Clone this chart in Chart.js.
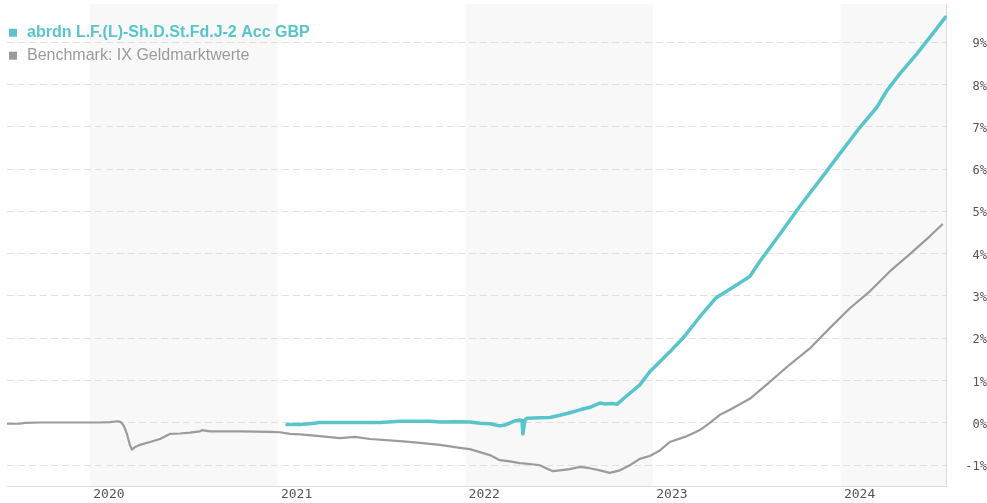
<!DOCTYPE html>
<html><head><meta charset="utf-8">
<style>html,body{margin:0;padding:0;background:#fff;overflow:hidden}canvas{display:block}</style>
<script src="https://cdn.jsdelivr.net/npm/chart.js@4.4.1/dist/chart.umd.min.js"></script>
</head><body><canvas id="c" width="987" height="503"></canvas>
<script>
const fundLabel = 'abrdn L.F.(L)-Sh.D.St.Fd.J-2 Acc GBP';
const benchLabel = 'Benchmark: IX Geldmarktwerte';

// time in decimal years, values in %
const fundX = [2021.050,2021.119,2021.199,2021.215,2021.385,2021.545,2021.652,2021.811,2021.865,2021.971,2022.024,2022.078,2022.131,2022.184,2022.211,2022.264,2022.291,2022.302,2022.307,2022.318,2022.328,2022.397,2022.451,2022.504,2022.557,2022.611,2022.664,2022.717,2022.744,2022.781,2022.808,2022.850,2022.930,2022.983,2023.090,2023.159,2023.250,2023.335,2023.410,2023.516,2023.570,2023.676,2023.783,2023.926,2023.980,2024.102,2024.193,2024.246,2024.315,2024.406,2024.491,2024.559];
const fundY = [-0.04,-0.035,-0.01,0.01,0.01,0.01,0.04,0.04,0.02,0.03,0.02,-0.01,-0.02,-0.07,-0.05,0.05,0.07,0.06,-0.26,0.07,0.11,0.12,0.13,0.18,0.24,0.31,0.37,0.47,0.45,0.46,0.44,0.60,0.90,1.21,1.68,2.00,2.51,2.95,3.16,3.46,3.82,4.46,5.12,5.95,6.27,6.98,7.46,7.85,8.25,8.72,9.20,9.59];

const benchX = [2019.558,2019.627,2019.654,2019.734,2019.840,2019.947,2020.053,2020.107,2020.149,2020.165,2020.181,2020.197,2020.213,2020.224,2020.240,2020.266,2020.320,2020.373,2020.426,2020.479,2020.533,2020.586,2020.597,2020.639,2020.799,2020.959,2021.012,2021.066,2021.119,2021.225,2021.332,2021.412,2021.492,2021.652,2021.758,2021.865,2021.971,2022.024,2022.078,2022.131,2022.184,2022.238,2022.291,2022.344,2022.397,2022.440,2022.467,2022.504,2022.557,2022.611,2022.664,2022.717,2022.770,2022.824,2022.877,2022.930,2022.983,2023.037,2023.090,2023.170,2023.197,2023.250,2023.303,2023.356,2023.410,2023.516,2023.623,2023.729,2023.836,2023.942,2024.049,2024.156,2024.262,2024.369,2024.475,2024.544];
const benchY = [-0.02,-0.02,0.00,0.01,0.01,0.01,0.01,0.02,0.04,0.02,-0.07,-0.26,-0.52,-0.63,-0.57,-0.52,-0.45,-0.38,-0.26,-0.25,-0.23,-0.20,-0.17,-0.20,-0.20,-0.21,-0.22,-0.26,-0.27,-0.31,-0.36,-0.33,-0.38,-0.43,-0.47,-0.52,-0.59,-0.62,-0.69,-0.76,-0.88,-0.91,-0.95,-0.97,-1.00,-1.09,-1.14,-1.12,-1.09,-1.04,-1.07,-1.12,-1.18,-1.12,-1.00,-0.85,-0.78,-0.65,-0.45,-0.33,-0.28,-0.17,0.00,0.19,0.31,0.57,0.97,1.38,1.76,2.24,2.71,3.11,3.58,3.99,4.41,4.70];

const yearTicks = [2020, 2021, 2022, 2023, 2024];
const yTickValues = [-1, 0, 1, 2, 3, 4, 5, 6, 7, 8, 9];
const shadedYears = [2020, 2022, 2024];
const xMin = 2019.558, xMax = 2024.566;
const yMin = -1.5, yMax = 9.9;

const fundColor = '#58c5cc';
const benchColor = '#9b9b9b';

const toPoints = (xs, ys) => xs.map((x, i) => ({x: x, y: ys[i]}));

const bandPlugin = {
  id: 'bands',
  beforeDraw(chart) {
    const {ctx, chartArea: a, scales: {x}} = chart;
    ctx.save();
    ctx.fillStyle = '#f8f8f8';
    shadedYears.forEach(yr => {
      const x1 = Math.max(a.left, x.getPixelForValue(yr));
      const x2 = Math.min(a.right, x.getPixelForValue(yr + 1));
      if (x2 > x1) ctx.fillRect(x1, a.top, x2 - x1, a.bottom - a.top);
    });
    ctx.restore();
  }
};

const legendPlugin = {
  id: 'inlineLegend',
  afterDraw(chart) {
    const ctx = chart.ctx;
    ctx.save();
    chart.data.datasets.forEach((ds, i) => {
      const cy = 32.7 + i * 23;
      ctx.fillStyle = ds.borderColor;
      ctx.fillRect(9, cy - 4, 8, 8);
      ctx.font = (i === 0 ? 'bold ' : '') + '16px "Liberation Sans", Arial, sans-serif';
      ctx.textBaseline = 'middle';
      ctx.textAlign = 'left';
      ctx.fillText(ds.label, 27, cy);
    });
    ctx.restore();
  }
};

new Chart(document.getElementById('c'), {
  type: 'line',
  data: {
    datasets: [
      {label: fundLabel, data: toPoints(fundX, fundY), borderColor: fundColor, backgroundColor: fundColor, borderWidth: 3.5, pointRadius: 0, tension: 0, borderJoinStyle: 'round', borderCapStyle: 'round'},
      {label: benchLabel, data: toPoints(benchX, benchY), borderColor: benchColor, backgroundColor: benchColor, borderWidth: 2.2, pointRadius: 0, tension: 0, borderJoinStyle: 'round'}
    ]
  },
  options: {
    responsive: false,
    animation: false,
    devicePixelRatio: 1,
    layout: {padding: {left: 7, top: 4, right: 0, bottom: 1}},
    plugins: {legend: {display: false}, tooltip: {enabled: false}},
    scales: {
      x: {
        type: 'linear', min: xMin, max: xMax,
        afterBuildTicks: s => { s.ticks = yearTicks.map(v => ({value: v})); },
        afterFit: s => { s.paddingLeft = 0; s.paddingRight = 0; },
        ticks: {callback: v => String(v), labelOffset: 19, padding: 0, maxRotation: 0, autoSkip: false,
          font: {family: '"DejaVu Sans Mono", monospace', size: 13}, color: '#555'},
        grid: {display: true, drawOnChartArea: false, drawTicks: false, color: 'rgba(0,0,0,0)'},
        border: {display: true, color: '#dcdcdc', width: 1}
      },
      y: {
        type: 'linear', position: 'right', min: yMin, max: yMax,
        afterBuildTicks: s => { s.ticks = yTickValues.map(v => ({value: v})); },
        afterFit: s => { s.paddingTop = 0; s.paddingBottom = 0; },
        ticks: {callback: v => v + '%', padding: 0, crossAlign: 'far', labelOffset: 2,
          font: {family: '"DejaVu Sans Mono", monospace', size: 12}, color: '#555'},
        grid: {color: '#e0e0e0', drawTicks: true, tickLength: 18.5, tickColor: 'rgba(0,0,0,0)'},
        border: {display: true, color: '#dcdcdc', dash: [7, 4]}
      }
    }
  },
  plugins: [bandPlugin, legendPlugin]
});
</script>
</body></html>
